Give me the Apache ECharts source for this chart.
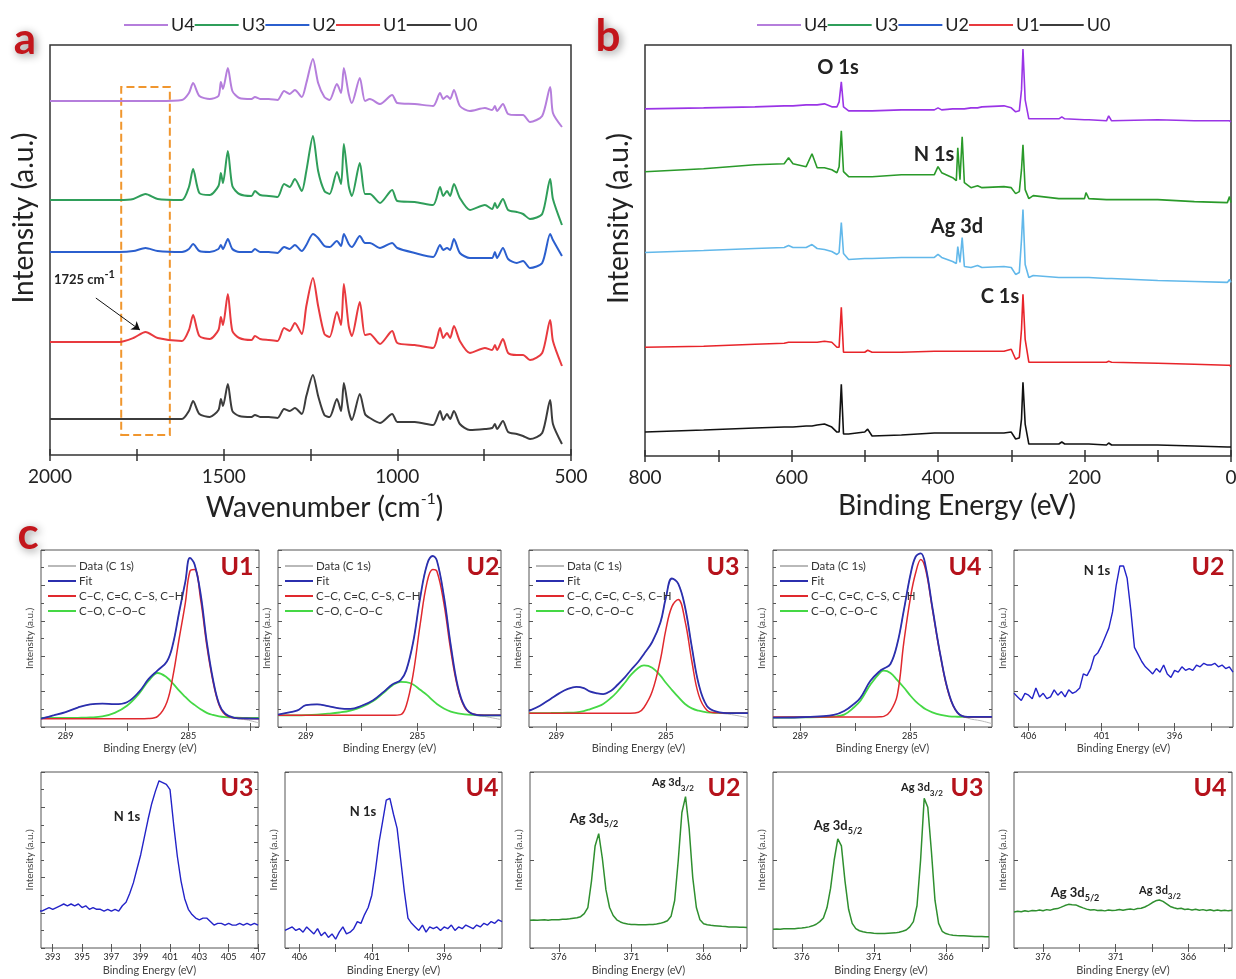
<!DOCTYPE html>
<html>
<head>
<meta charset="utf-8">
<script src="https://cdn.jsdelivr.net/npm/echarts@6.0.0/dist/echarts.min.js"></script>
<style>
  html, body { margin: 0; padding: 0; background: #fff; }
  #chart { width: 1236px; height: 979px; }
</style>
</head>
<body>
<div id="chart"></div>
<script>
// ---- panel a : FTIR (wavenumber, stacked, arbitrary units) ----
const wavenumber = [2000, 1800, 1760, 1725, 1690, 1620, 1600, 1588, 1570, 1540, 1515, 1508, 1502, 1488, 1475, 1455, 1420, 1410, 1395, 1370, 1345, 1326, 1310, 1295, 1275, 1262, 1243, 1228, 1210, 1195, 1174, 1162, 1154, 1140, 1131, 1108, 1093, 1079, 1050, 1015, 1000, 950, 897, 877, 868, 857, 848, 837, 820, 791, 748, 727, 719, 713, 696, 681, 656, 638, 618, 583, 560, 552, 526];
const ftirU4 = [354,354,354,354,354,355,362,372,359,356, 359,373,366,387,364,357,356,358,356,356, 355,364,361,365,358,372,396,372,358,355, 371,362,387,361,352,377,354,356,351,360, 352,351,349,362,356,359,356,365,349,344, 347,345,349,344,351,341,340,340,333,339, 368,342,328];
const ftirU3 = [255,255,256,261,256,255,268,286,262,260, 269,282,272,304,269,261,259,264,260,259, 258,271,268,276,264,284,319,284,264,261, 283,271,311,269,259,292,261,261,252,265, 254,253,250,268,259,264,259,271,257,245, 250,246,252,247,256,245,243,241,236,241, 276,256,230];
const ftirU2 = [203,203,204,207,204,203,206,211,204,203, 206,210,206,216,206,203,203,206,203,203, 202,208,206,210,204,210,221,217,209,208, 214,209,221,211,208,219,212,212,207,212, 207,202,198,210,205,207,205,216,202,197, 197,197,203,197,207,196,192,194,187,192, 221,215,199];
const ftirU1 = [113,113,117,123,117,114,125,140,119,116, 125,138,130,161,124,117,115,119,116,115, 114,127,124,132,121,149,177,149,121,118, 143,130,171,129,119,153,120,121,111,124, 112,110,107,127,117,122,117,129,114,102, 107,105,110,105,116,102,100,100,95,102, 135,114,89];
const ftirU0 = [36,36,36,36,36,36,44,54,41,38, 45,56,49,71,44,39,38,40,38,38, 37,46,44,47,41,59,80,59,40,38, 56,44,72,44,35,61,41,37,32,41, 33,33,30,44,35,41,36,44,31,25, 26,27,31,26,34,23,21,19,16,22, 55,31,11];

// ---- panel b : XPS survey ----
const surveyBE = [800, 720, 650, 610, 604, 598, 580, 572, 565, 555, 545, 538, 535, 532, 529, 522, 500, 496, 490, 450, 405, 400, 395, 380, 375, 373, 370, 367, 364, 355, 346, 340, 310, 300, 294, 289, 286, 284, 281, 276, 270, 235, 231, 227, 200, 198, 194, 170, 167, 163, 100, 50, 5, 2, 0];
const xpsU4 = [348,349,350,351,351,351,352,352,352,353, 350,350,355,375,350,346,346,346,346,347, 347,349,347,348,348,348,348,348,348,349, 349,350,351,349,345,346,367,408,357,338, 338,338,340,338,337,337,337,336,341,336, 337,336,336,336,335];
const xpsU3 = [285,288,292,293,299,293,290,303,289,289, 287,284,290,326,285,280,280,280,280,282, 282,290,284,279,276,309,277,320,274,269, 271,269,270,269,263,265,287,312,267,258, 261,258,258,258,258,264,258,257,257,257, 257,255,254,260,254];
const xpsU2 = [204,206,208,209,211,209,209,212,208,207, 205,202,204,234,203,197,198,198,198,199, 199,202,199,195,193,210,194,219,190,189, 191,189,190,189,182,184,217,247,192,179, 181,179,179,179,179,181,179,178,178,178, 176,175,174,177,174];
const xpsU1 = [109,110,112,113,114,114,114,114,114,115, 114,109,109,149,104,104,104,106,104,104, 105,105,105,105,105,105,105,105,105,105, 105,105,105,107,97,99,127,162,117,94, 94,94,94,94,94,95,94,94,95,94, 93,92,91,91,90];
const xpsU0 = [24,26,28,29,29,29,30,30,31,32, 29,24,24,72,22,22,24,27,20,21, 23,23,23,23,23,23,23,23,23,23, 23,23,23,24,17,18,37,74,32,12, 12,12,14,12,12,14,12,11,13,11, 11,10,9,9,9];

// ---- panel c : C 1s high resolution ----
const c1sU1E = [289.8,289.4,289.0,288.6,288.2,287.8,287.4,287.0,286.6,286.3, 286.0,285.7,285.5,285.3,285.1,284.95,284.8,284.6,284.4,284.2, 284.0,283.8,283.5,283.1,282.7];
const c1sU1Fit = [4.7,6.5,8.4,11.0,12.8,13.2,12.9,14.0,20.0,27.0, 32.0,37.0,47.0,65.0,82.0,95.5,92.0,75.0,48.0,27.0, 13.0,7.5,5.2,4.8,4.7];
const c1sU1CC = [4.7,4.7,4.7,4.7,4.7,4.7,4.7,4.7,4.7,4.8, 6.0,14.0,29.0,50.0,70.0,88.0,89.0,72.0,46.0,26.0, 12.5,7.0,5.1,4.8,4.7];
const c1sU1CO = [5.1,5.1,5.1,5.2,5.4,6.0,8.0,12.0,19.0,26.0, 30.5,28.0,24.5,20.5,17.0,14.5,12.5,10.0,8.0,6.8, 6.0,5.6,5.3,5.1,5.1];
const c1sU1Data = [4.8,6.6,8.3,11.1,12.7,13.3,12.8,14.1,20.2,26.8, 32.1,36.8,47.2,64.8,82.2,95.3,92.2,74.8,48.2,26.8, 13.2,7.3,5.0,4.0,2.3];

const c1sU2E = [290.0,289.6,289.3,289.0,288.6,288.2,287.8,287.4,287.0,286.6, 286.2,285.9,285.6,285.4,285.15,284.9,284.65,284.45,284.3,284.05, 283.8,283.55,283.3,283.0,282.6,282.0];
const c1sU2Fit = [7.0,8.3,9.4,12.3,12.8,11.8,10.5,10.2,12.0,15.0, 20.0,24.0,26.5,32.0,48.0,73.0,92.0,96.6,94.0,74.0, 46.0,23.0,11.5,7.3,6.6,6.6];
const c1sU2CC = [6.6,6.6,6.6,6.6,6.6,6.6,6.6,6.6,6.6,6.6, 6.6,6.6,7.0,12.0,30.0,58.0,82.0,89.0,88.0,70.0, 43.0,22.0,11.0,7.3,6.6,6.6];
const c1sU2CO = [6.6,6.6,6.6,6.7,7.0,7.5,8.2,9.3,11.3,14.5, 19.5,23.5,25.5,25.3,24.0,21.0,18.0,15.0,13.0,10.5, 8.7,7.7,7.1,6.8,6.6,6.6];
const c1sU2Data = [7.1,8.2,9.5,12.2,12.9,11.7,10.6,10.1,12.1,14.9, 20.1,23.9,26.6,31.8,48.2,72.8,92.2,96.4,94.2,73.8, 46.2,22.8,11.3,7.0,6.0,4.2];

const c1sU3E = [290.0,289.6,289.2,288.9,288.6,288.27,288.0,287.78,287.5,287.29, 287.0,286.8,286.5,286.3,286.0,285.8,285.5,285.2,285.0,284.78, 284.55,284.3,284.05,283.8,283.5,283.15,282.6,282.0];
const c1sU3Fit = [9.1,12.0,16.0,19.0,21.4,22.7,22.0,20.1,19.0,18.6, 20.5,23.3,28.0,31.8,37.0,41.3,48.0,59.0,73.0,83.9, 81.0,67.8,45.0,24.2,11.9,8.7,7.8,7.8];
const c1sU3CC = [7.8,7.8,7.8,7.8,7.8,7.8,7.8,7.8,7.8,7.8, 7.8,7.8,7.8,7.8,8.3,11.0,20.0,38.0,55.0,68.0, 72.0,60.0,37.0,18.0,9.5,8.0,7.8,7.8];
const c1sU3CO = [7.8,7.8,7.9,8.0,8.1,8.3,9.0,10.0,11.5,13.0, 16.5,19.5,25.0,29.0,33.5,34.8,33.5,29.0,25.0,21.0, 17.0,13.0,10.5,9.2,8.3,8.0,7.8,7.8];
const c1sU3Data = [9.2,11.9,16.1,18.9,21.5,22.6,22.1,20.0,19.1,18.5, 20.6,23.2,28.1,31.7,37.1,41.2,48.1,58.8,73.1,83.7, 81.1,67.6,45.2,24.0,11.7,8.4,7.0,5.3];

const c1sU4E = [290.0,289.0,288.3,287.78,287.4,287.05,286.8,286.44,286.07,285.95, 285.71,285.46,285.22,284.97,284.79,284.6,284.42,284.18,283.87,283.57, 283.26,282.89,282.4,282.0];
const c1sU4Fit = [5.3,5.5,6.0,6.8,9.0,12.9,16.7,26.1,32.0,33.0, 35.6,47.0,66.0,86.7,96.2,98.1,90.5,67.8,39.4,18.6, 8.1,5.7,5.7,5.7];
const c1sU4CC = [5.7,5.7,5.7,5.7,5.7,5.7,5.7,5.7,5.8,6.0, 9.0,18.0,48.0,74.0,87.0,94.7,88.6,66.9,39.0,18.2, 8.1,5.7,5.7,5.7];
const c1sU4CO = [5.3,5.4,5.6,5.9,7.0,11.0,15.0,24.0,31.0,31.8, 30.5,26.5,22.3,17.5,14.5,12.0,10.0,8.3,6.8,6.0, 5.8,5.7,5.7,5.7];
const c1sU4Data = [5.3,5.5,6.0,6.8,9.0,12.9,16.7,26.1,32.0,33.0, 35.6,47.0,66.0,86.7,96.2,98.1,90.5,67.8,39.4,18.6, 8.0,5.0,3.5,1.9];

// ---- panel c : N 1s ----
const n1sE = [407,406.75,406.5,406.25,406,405.75,405.5,405.25,405,404.75, 404.5,404.25,404,403.75,403.5,403.25,403,402.75,402.5,402.25, 402,401.75,401.5,401.25,401,400.75,400.5,400.25,400,399.75, 399.5,399.25,399,398.75,398.5,398.25,398,397.75,397.5,397.25, 397,396.75,396.5,396.25,396,395.75,395.5,395.25,395,394.75, 394.5,394.25,394,393.75,393.5,393.25,393,392.75,392.5,392.25,392];
const n1sU2 = [19,17,15,19,18,16,22,17,19,16, 17,21,18,20,17,21,19,20,22,30, 29,33,40,42,46,51,56,65,80,91, 91,84,66,45,41,37,34,32,30,33, 31,35,30,28,32,31,34,32,33,32, 35,34,36,35,35,36,34,35,33,34,31];
const n1sU3 = [13,14,13,14,13,14,13,13,14,13, 14,14,13,15,17,17,16,17,19,22, 28,38,52,70,90,93,94,95,89,82, 73,63,53,45,37,31,26,24,21,22, 21,22,21,22,22,23,22,24,23,25, 24,25,24,25,24,23,22,23,22,21,21];
const n1sU4 = [10,11,12,10,11,9,12,10,8,11, 7,9,6,8,5,9,12,8,9,11, 15,14,19,23,30,44,60,72,84,85, 76,68,50,32,17,14,12,10,13,9, 12,11,12,10,12,11,13,10,12,11, 13,12,11,13,12,14,13,15,14,16,15];

// ---- panel c : Ag 3d ----
const agE = [378,377.75,377.5,377.25,377,376.75,376.5,376.25,376,375.75, 375.5,375.25,375,374.75,374.5,374.25,374,373.75,373.5,373.25, 373,372.75,372.5,372.25,372,371.75,371.5,371.25,371,370.75, 370.5,370.25,370,369.75,369.5,369.25,369,368.75,368.5,368.25, 368,367.75,367.5,367.25,367,366.75,366.5,366.25,366,365.75, 365.5,365.25,365,364.75,364.5,364.25,364,363.75,363.5,363.25,363];
const agU2 = [15.8,15.9,15.7,15.9,16.0,15.8,16.0,16.1,16.0,16.3, 16.4,16.6,16.9,17.2,17.8,19.5,23,38,58,65, 51,33,23,18.5,16,14.8,14.0,13.6,13.4,13.3, 13.2,13.2,13.2,13.3,13.4,13.6,14.0,14.6,15.5,18, 27,50,77,86,68,40,23,16,13.8,13.2, 12.9,12.7,12.5,12.3,12.2,12.0,12.0,11.9,11.8,11.8,11.7];
const agU3 = [10.7,10.8,10.7,10.9,10.9,11.0,11.0,11.2,11.3,11.6, 12.0,12.6,13.5,15.0,17.0,23,34,50,62,58, 38,22,14,11,9.8,9.2,8.8,8.6,8.4,8.3, 8.3,8.3,8.4,8.5,8.6,9.0,9.5,10.2,12,15, 24,50,85,80,55,27,14,9.5,8.2,7.6, 7.3,7.1,7.0,6.9,6.8,6.7,6.6,6.5,6.5,6.4,6.4];
const agU4 = [20.5,20.9,20.6,21.2,20.8,21.3,21.1,21.6,21.2,21.8, 21.5,22.2,22.4,23.2,24.1,24.8,24.6,24.5,23.6,22.8, 22.1,21.6,21.8,21.3,21.5,21.1,21.6,21.3,21.5,21.9, 21.4,21.9,22.1,21.8,22.4,22.6,23.3,24.4,25.7,26.8, 27.3,26.5,25.1,23.6,22.9,22.3,22.6,21.9,22.1,21.6, 22.0,21.5,21.8,21.3,21.7,21.2,21.6,21.2,21.5,21.1,21.4];

const sampleNames = ['U4', 'U3', 'U2', 'U1', 'U0'];
const c1sNames = ['Data (C 1s)', 'Fit', 'C\u2212C, C=C, C\u2212S, C\u2212H', 'C\u2212O, C\u2212O\u2212C'];

const FONT = 'Lato';
const chart = echarts.init(document.getElementById('chart'));
const grids = [], xAxes = [], yAxes = [], series = [], legends = [], graphics = [];

function zip(xs, ys) {
  return xs.map((x, i) => [x, ys[i]]);
}

// one framed panel: bottom + top x axis, left + right y axis
function addPanel(c) {
  const gi = grids.length;
  grids.push({
    left: c.left, top: c.top, width: c.width, height: c.height,
    show: true, borderColor: c.line, borderWidth: c.lw,
    backgroundColor: 'rgba(0,0,0,0)', outerBoundsMode: 'none'
  });
  const tl = { color: c.line, width: c.lw };
  const tick = { show: true, inside: c.inside, length: c.tickLen, lineStyle: tl };
  if (c.tickValues) tick.customValues = c.tickValues;
  const minor = c.minor
    ? { show: true, splitNumber: c.minor, length: c.tickLen, lineStyle: tl }
    : { show: false };
  const base = {
    type: 'value', gridIndex: gi, min: c.xMin, max: c.xMax, inverse: !!c.inverse,
    axisLine: { show: false }, splitLine: { show: false },
    axisTick: tick, minorTick: minor
  };
  if (c.interval) base.interval = c.interval;
  const label = {
    fontSize: c.labelSize, color: '#222', margin: c.labelMargin, fontFamily: FONT,
    formatter: v => String(v)
  };
  if (c.labelValues) label.customValues = c.labelValues;
  const xi = xAxes.length;
  xAxes.push(Object.assign({}, base, {
    position: 'bottom', axisLabel: label,
    name: c.xName, nameLocation: 'middle', nameGap: c.xNameGap, nameTextStyle: c.xNameStyle
  }));
  xAxes.push(Object.assign({}, base, { position: 'top', axisLabel: { show: false } }));

  const ytick = c.yInterval
    ? { show: true, inside: true, length: c.tickLen, lineStyle: tl }
    : { show: false };
  const yminor = c.yMinor
    ? { show: true, splitNumber: c.yMinor, length: c.tickLen - 1, lineStyle: tl }
    : { show: false };
  const ybase = {
    type: 'value', gridIndex: gi, min: 0, max: c.yMax,
    axisLine: { show: false }, splitLine: { show: false }, axisLabel: { show: false },
    axisTick: ytick, minorTick: yminor
  };
  if (c.yInterval) ybase.interval = c.yInterval;
  const yi = yAxes.length;
  yAxes.push(Object.assign({}, ybase, {
    position: 'left', name: c.yName, nameLocation: 'middle',
    nameGap: c.yNameGap, nameTextStyle: c.yNameStyle
  }));
  yAxes.push(Object.assign({}, ybase, { position: 'right' }));
  return { x: xi, y: yi };
}

function line(name, ax, xs, ys, color, width, smooth, extra) {
  series.push(Object.assign({
    type: 'line', name: name, xAxisIndex: ax.x, yAxisIndex: ax.y,
    data: zip(xs, ys), symbol: 'none', smooth: smooth || false,
    lineStyle: { color: color, width: width }, itemStyle: { color: color },
    silent: true, animation: false
  }, extra || {}));
}

function txt(x, y, text, style) {
  graphics.push({
    type: 'text', x: x, y: y, silent: true, z: 100,
    style: Object.assign({
      text: text, fill: '#222', fontFamily: FONT,
      align: 'center', verticalAlign: 'middle',
      textAlign: 'center', textVerticalAlign: 'middle'
    }, style)
  });
}

// ---------- panel a ----------
const bigName = { fontSize: 28, color: '#222', fontFamily: FONT };
const axA = addPanel({
  left: 50, top: 45, width: 521, height: 410, line: '#333', lw: 1.5, inside: false, tickLen: 6,
  minor: 2, xMin: 500, xMax: 2000, inverse: true, interval: 500,
  labelSize: 19, labelMargin: 12,
  xName: '{t|Wavenumber (cm}{s|-1}{t|)}', xNameGap: 36,
  xNameStyle: {
    padding: [0, 0, 0, 28],
    rich: {
      t: { fontSize: 28, color: '#222', fontFamily: FONT, lineHeight: 34 },
      s: { fontSize: 16, color: '#222', fontFamily: FONT, lineHeight: 18, verticalAlign: 'top' }
    }
  },
  yName: 'Intensity (a.u.)', yNameGap: 12,
  yNameStyle: Object.assign({ padding: [0, 0, 0, 64] }, bigName), yMax: 410
});
const ftirColors = ['#b57edc', '#2f9e5a', '#2b5fce', '#e83a3f', '#3c3c3c'];
const ftirData = [ftirU4, ftirU3, ftirU2, ftirU1, ftirU0];
ftirData.forEach((ys, i) => {
  const extra = {};
  if (sampleNames[i] === 'U1') {
    extra.markArea = {
      silent: true,
      itemStyle: { color: 'rgba(0,0,0,0)', borderColor: '#f0962e', borderWidth: 2, borderType: 'dashed' },
      data: [[{ coord: [1795, 20] }, { coord: [1655, 368] }]]
    };
    extra.markLine = {
      silent: true, symbol: ['none', 'arrow'], symbolSize: 8,
      lineStyle: { color: '#111', width: 1, type: 'solid' }, label: { show: false },
      data: [[{ coord: [1868, 157] }, { coord: [1741, 125] }]]
    };
  }
  line(sampleNames[i], axA, wavenumber, ys, ftirColors[i], 2, 0.25, extra);
});

// ---------- panel b ----------
const axB = addPanel({
  left: 645, top: 45, width: 586, height: 411, line: '#333', lw: 1.5, inside: false, tickLen: 6,
  minor: 2, xMin: 0, xMax: 800, inverse: true, interval: 200,
  labelSize: 19, labelMargin: 12,
  xName: 'Binding Energy (eV)', xNameGap: 36,
  xNameStyle: Object.assign({ padding: [0, 0, 0, 38] }, bigName),
  yName: 'Intensity (a.u.)', yNameGap: 12,
  yNameStyle: Object.assign({ padding: [0, 0, 0, 64] }, bigName), yMax: 412
});
const xpsColors = ['#9a34e6', '#2a9a2a', '#62b8ea', '#e8242a', '#111111'];
[xpsU4, xpsU3, xpsU2, xpsU1, xpsU0].forEach((ys, i) => {
  line(sampleNames[i], axB, surveyBE, ys, xpsColors[i], 1.6, false);
});

[119, 752].forEach(left => {
  legends.push({
    left: left, top: 11, orient: 'horizontal', icon: 'rect',
    itemWidth: 44, itemHeight: 2, itemGap: 0, selectedMode: false,
    data: sampleNames,
    textStyle: { fontSize: 18, color: '#222', fontFamily: FONT, padding: [0, 0, 0, -2] }
  });
});

// ---------- panel c ----------
const smallX = { fontSize: 11, color: '#444', fontFamily: FONT };
const smallY = { fontSize: 10, color: '#444', fontFamily: FONT };
function cPanel(o) {
  return addPanel(Object.assign({
    line: '#555', lw: 1, inside: true, tickLen: 4, labelSize: 9, labelMargin: 5,
    xName: 'Binding Energy (eV)', xNameGap: 16, xNameStyle: smallX,
    yName: 'Intensity (a.u.)', yNameGap: 6, yNameStyle: smallY, yMax: 100,
    yInterval: 20, yMinor: 2, inverse: true
  }, o));
}

const c1sTicks = [289, 287, 285, 283];
const c1sLabels = [289, 285];
const c1sPanels = [
  { left: 41, width: 218, xMin: 282.7, xMax: 289.8, e: c1sU1E, d: c1sU1Data, f: c1sU1Fit, cc: c1sU1CC, co: c1sU1CO },
  { left: 278, width: 223, xMin: 282, xMax: 290, e: c1sU2E, d: c1sU2Data, f: c1sU2Fit, cc: c1sU2CC, co: c1sU2CO },
  { left: 529, width: 219, xMin: 282, xMax: 290, e: c1sU3E, d: c1sU3Data, f: c1sU3Fit, cc: c1sU3CC, co: c1sU3CO },
  { left: 773, width: 219, xMin: 282, xMax: 290, e: c1sU4E, d: c1sU4Data, f: c1sU4Fit, cc: c1sU4CC, co: c1sU4CO }
];
c1sPanels.forEach(p => {
  const ax = cPanel({
    left: p.left, width: p.width, top: 550, height: 177, xMin: p.xMin, xMax: p.xMax,
    tickValues: c1sTicks, labelValues: c1sLabels
  });
  line(c1sNames[0], ax, p.e, p.d, '#b9b9b9', 1, 0.4);
  line(c1sNames[3], ax, p.e, p.co, '#45d845', 1.8, 0.4);
  line(c1sNames[2], ax, p.e, p.cc, '#e0292e', 1.5, 0.4);
  line(c1sNames[1], ax, p.e, p.f, '#2b2fae', 1.8, 0.4);
  legends.push({
    left: p.left + 2, top: 554, orient: 'vertical', icon: 'rect',
    itemWidth: 28, itemHeight: 2, itemGap: 1, selectedMode: false,
    data: c1sNames,
    textStyle: { fontSize: 11.5, lineHeight: 14, color: '#333', fontFamily: FONT, padding: [0, 0, 0, -2] }
  });
});

const n1sColor = '#2323c8';
const agColor = '#2f8f2f';
const ticks25 = [406, 403.5, 401, 398.5, 396, 393.5];
const axN2 = cPanel({
  left: 1014, width: 219, top: 550, height: 177, xMin: 392, xMax: 407,
  tickValues: ticks25, labelValues: [406, 401, 396], yMinor: 0
});
line('N 1s U2', axN2, n1sE, n1sU2, n1sColor, 1.4, false);

const oddTicks = [393, 395, 397, 399, 401, 403, 405, 407];
const axN3 = cPanel({
  left: 41, width: 217, top: 772, height: 176, xMin: 392.2, xMax: 407, inverse: false,
  tickValues: oddTicks, labelValues: oddTicks, xNameGap: 17
});
line('N 1s U3', axN3, n1sE, n1sU3, n1sColor, 1.4, false);

const axN4 = cPanel({
  left: 285, width: 217, top: 772, height: 176, xMin: 392, xMax: 407,
  tickValues: ticks25, labelValues: [406, 401, 396], yInterval: 50, yMinor: 0, xNameGap: 17
});
line('N 1s U4', axN4, n1sE, n1sU4, n1sColor, 1.4, false);

const agTicks = [376, 373.5, 371, 368.5, 366, 363.5];
const agPanels = [
  { left: 530, width: 217, d: agU2, n: 'Ag U2' },
  { left: 773, width: 216, d: agU3, n: 'Ag U3' },
  { left: 1014, width: 218, d: agU4, n: 'Ag U4' }
];
agPanels.forEach(p => {
  const ax = cPanel({
    left: p.left, width: p.width, top: 772, height: 176, xMin: 363, xMax: 378,
    tickValues: agTicks, labelValues: [376, 371, 366], yInterval: 50, yMinor: 0, xNameGap: 17
  });
  line(p.n, ax, agE, p.d, agColor, 1.5, false);
});

// ---------- annotations ----------
const letterStyle = {
  fontSize: 44, fontWeight: 'bold', fill: '#c3161c',
  textShadowColor: 'rgba(0,0,0,0.45)', textShadowBlur: 8, textShadowOffsetX: 2, textShadowOffsetY: 2
};
txt(25, 40, 'a', letterStyle);
txt(608, 37, 'b', letterStyle);
txt(28, 535, 'c', letterStyle);

txt(54, 280, '{m|1725 cm}{s|-1}', {
  align: 'left', textAlign: 'left',
  rich: {
    m: { fontSize: 13, fontWeight: 'bold', fill: '#222', fontFamily: FONT, lineHeight: 22 },
    s: { fontSize: 11, fontWeight: 'bold', fill: '#222', fontFamily: FONT, lineHeight: 12, verticalAlign: 'top' }
  }
});

const peakStyle = { fontSize: 20, fontWeight: 'bold', fill: '#222' };
txt(838, 68, 'O 1s', peakStyle);
txt(934, 155, 'N 1s', peakStyle);
txt(957, 227, 'Ag 3d', peakStyle);
txt(1000, 297, 'C 1s', peakStyle);

const uStyle = { fontSize: 25, fontWeight: 'bold', fill: '#b5121b' };
[[237, 567, 'U1'], [483, 567, 'U2'], [723, 567, 'U3'], [965, 567, 'U4'], [1208, 567, 'U2'],
 [237, 788, 'U3'], [482, 788, 'U4'], [724, 788, 'U2'], [967, 788, 'U3'], [1210, 788, 'U4']]
  .forEach(u => txt(u[0], u[1], u[2], uStyle));

const nStyle = { fontSize: 13, fontWeight: 'bold', fill: '#222' };
txt(1097, 571, 'N 1s', nStyle);
txt(127, 817, 'N 1s', nStyle);
txt(363, 812, 'N 1s', nStyle);

function agLabel(x, y, sub, big) {
  const fs = big ? 13 : 11;
  txt(x, y, '{m|Ag 3d}{s|' + sub + '}', {
    rich: {
      m: { fontSize: fs, fontWeight: 'bold', fill: '#222', fontFamily: FONT, lineHeight: 20 },
      s: { fontSize: big ? 9 : 8, fontWeight: 'bold', fill: '#222', fontFamily: FONT, lineHeight: 10, verticalAlign: 'bottom' }
    }
  });
}
agLabel(594, 819, '5/2', true);
agLabel(673, 782, '3/2', false);
agLabel(838, 826, '5/2', true);
agLabel(922, 787, '3/2', false);
agLabel(1075, 893, '5/2', true);
agLabel(1160, 890, '3/2', false);

chart.setOption({
  animation: false,
  textStyle: { fontFamily: FONT },
  grid: grids,
  xAxis: xAxes,
  yAxis: yAxes,
  legend: legends,
  series: series,
  graphic: { elements: graphics }
});
</script>
</body>
</html>
